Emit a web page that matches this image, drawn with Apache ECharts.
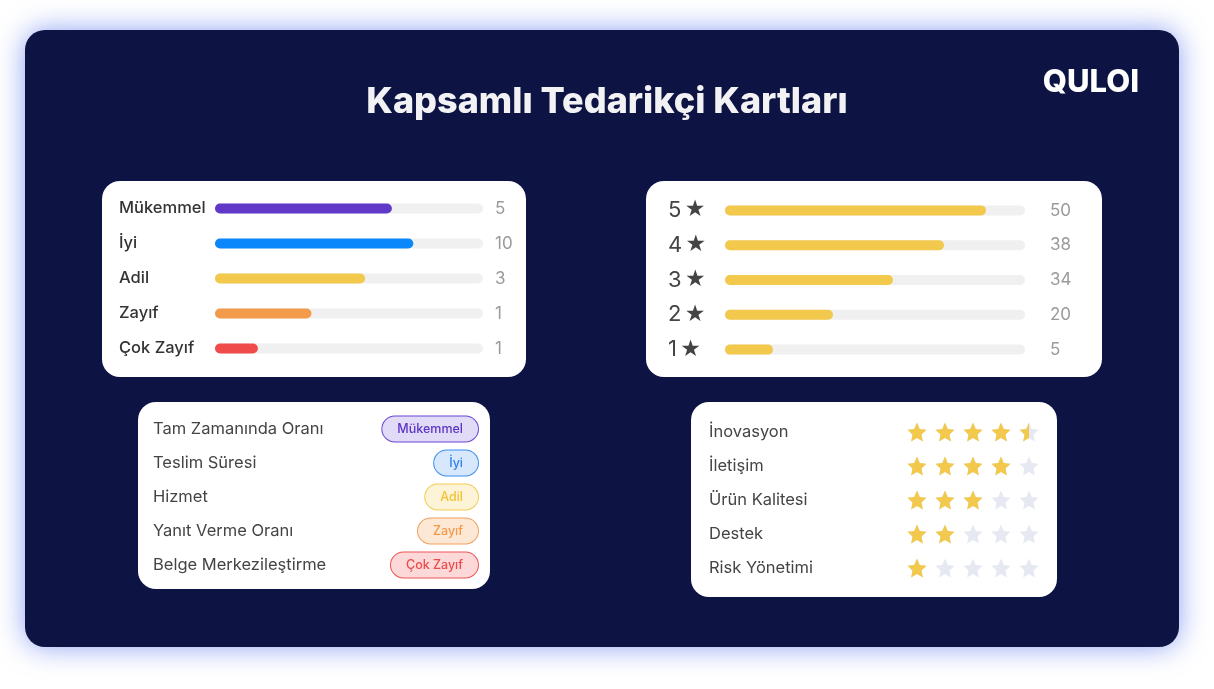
<!DOCTYPE html>
<html><head><meta charset="utf-8">
<script src="https://cdn.jsdelivr.net/npm/echarts@6/dist/echarts.min.js"></script>
<style>html,body{margin:0;padding:0;background:#fff}#c{width:1214px;height:689px}</style>
</head><body><div id="c"></div>
<script>
// ---- data ----
const gradeCats = ['Mükemmel', 'İyi', 'Adil', 'Zayıf', 'Çok Zayıf'];
const gradeCounts = ['5', '10', '3', '1', '1'];
const gradeFill = [66, 74, 56, 36, 16];
const gradeColors = ['#6139c9', '#0a87fa', '#f2c94c', '#f29c4b', '#ef4b4b'];

const starLevels = ['5', '4', '3', '2', '1'];
const starCounts = ['50', '38', '34', '20', '5'];
const starFill = [87, 73, 56, 36, 16];

const metricNames = ['Tam Zamanında Oranı', 'Teslim Süresi', 'Hizmet', 'Yanıt Verme Oranı', 'Belge Merkezileştirme'];
const metricGrades = ['Mükemmel', 'İyi', 'Adil', 'Zayıf', 'Çok Zayıf'];

const attrNames = ['İnovasyon', 'İletişim', 'Ürün Kalitesi', 'Destek', 'Risk Yönetimi'];
const attrRatings = [4.5, 4, 3, 2, 1];
const maxStars = 5;

const titleText = 'Kapsamlı Tedarikçi Kartları';
const logoText = 'QULOI';

// ---- styles ----
const FONT = 'Inter, "Noto Sans", sans-serif';
const badgeStyles = [
  {color: '#5b34c4', backgroundColor: '#e1dbf7', borderColor: '#6a45d6'},
  {color: '#2f80ed', backgroundColor: '#d8e8fc', borderColor: '#3a8ef0'},
  {color: '#f2c233', backgroundColor: '#fdf3d6', borderColor: '#f2cb52'},
  {color: '#f2994a', backgroundColor: '#fde8d6', borderColor: '#f2a05a'},
  {color: '#eb4a4a', backgroundColor: '#fdd8d8', borderColor: '#ee5555'}
];
const rich = {};
badgeStyles.forEach((s, i) => {
  rich['g' + i] = Object.assign({fontSize: 12.5, fontFamily: FONT, fontWeight: 500, borderWidth: 1, borderRadius: 13, padding: [6, 15, 6, 15]}, s);
});
const STAR = 'path://M12,1.5 L15.1,8.2 L22.5,9 L17,14 L18.5,21.3 L12,17.6 L5.5,21.3 L7,14 L1.5,9 L8.9,8.2 Z';

const hidden = {axisLine: {show: false}, axisTick: {show: false}, splitLine: {show: false}};

const chart = echarts.init(document.getElementById('c'), null, {renderer: 'canvas'});
chart.setOption({
  backgroundColor: '#ffffff',
  animation: false,
  title: [
    {text: titleText, left: 'center', top: 79, textStyle: {color: '#f2f2f4', fontSize: 36, fontWeight: 800, fontFamily: FONT}},
    {text: logoText, right: 70, top: 62, textStyle: {color: '#ffffff', fontSize: 31, fontWeight: 800, fontFamily: FONT}}
  ],
  graphic: [
    {type: 'rect', z: -10, shape: {x: 25, y: 30, width: 1154, height: 617, r: 20},
      style: {fill: '#0d1443', shadowBlur: 28, shadowColor: 'rgba(80,110,235,0.65)'}},
    {type: 'rect', z: -5, shape: {x: 102, y: 181, width: 424, height: 196, r: 18}, style: {fill: '#fff'}},
    {type: 'rect', z: -5, shape: {x: 646, y: 181, width: 456, height: 196, r: 18}, style: {fill: '#fff'}},
    {type: 'rect', z: -5, shape: {x: 138, y: 402, width: 352, height: 187, r: 18}, style: {fill: '#fff'}},
    {type: 'rect', z: -5, shape: {x: 691, y: 402, width: 366, height: 195, r: 18}, style: {fill: '#fff'}}
  ],
  grid: [
    {left: 215, top: 191, width: 268, height: 175},
    {left: 725, top: 193, width: 300, height: 174},
    {left: 153, top: 412, width: 325, height: 170},
    {left: 903, top: 415, width: 140, height: 170}
  ],
  xAxis: [
    Object.assign({gridIndex: 0, type: 'value', min: 0, max: 100, axisLabel: {show: false}}, hidden),
    Object.assign({gridIndex: 1, type: 'value', min: 0, max: 100, axisLabel: {show: false}}, hidden),
    Object.assign({gridIndex: 2, type: 'value', min: 0, max: 1, axisLabel: {show: false}}, hidden),
    Object.assign({gridIndex: 3, type: 'value', min: 0, max: maxStars, axisLabel: {show: false}}, hidden)
  ],
  yAxis: [
    Object.assign({gridIndex: 0, type: 'category', inverse: true, data: gradeCats,
      axisLabel: {align: 'left', margin: 96, color: '#333', fontSize: 16.5, fontWeight: 500, fontFamily: FONT, padding: [4, 0, 0, 0]}}, hidden),
    Object.assign({gridIndex: 0, type: 'category', inverse: true, position: 'right', data: gradeCounts,
      axisLabel: {margin: 12, color: '#9a9a9a', fontSize: 17, fontFamily: FONT}}, hidden),
    Object.assign({gridIndex: 1, type: 'category', inverse: true, data: starLevels,
      axisLabel: {align: 'left', margin: 57, formatter: v => '{n|' + v + '} {s|★}',
        rich: {n: {fontSize: 22, color: '#444', fontFamily: FONT}, s: {fontSize: 23, color: '#444', fontFamily: 'DejaVu Sans'}}}}, hidden),
    Object.assign({gridIndex: 1, type: 'category', inverse: true, position: 'right', data: starCounts,
      axisLabel: {margin: 25, color: '#9a9a9a', fontSize: 17, fontFamily: FONT}}, hidden),
    Object.assign({gridIndex: 2, type: 'category', inverse: true, data: metricNames,
      axisLabel: {align: 'left', margin: 0, color: '#444', fontSize: 16.5, fontFamily: FONT}}, hidden),
    Object.assign({gridIndex: 2, type: 'category', inverse: true, position: 'right', data: metricGrades,
      axisLabel: {align: 'right', margin: 0, formatter: (v, i) => '{g' + i + '|' + v + '}', rich: rich}}, hidden),
    Object.assign({gridIndex: 3, type: 'category', inverse: true, data: attrNames,
      axisLabel: {align: 'left', margin: 194, color: '#444', fontSize: 16.5, fontFamily: FONT, padding: [2, 0, 0, 0]}}, hidden)
  ],
  series: [
    {type: 'bar', xAxisIndex: 0, yAxisIndex: 0, barWidth: 10,
      showBackground: true, backgroundStyle: {color: '#f0f0f0', borderRadius: 5},
      itemStyle: {borderRadius: 5},
      data: gradeFill.map((v, i) => ({value: v, itemStyle: {color: gradeColors[i]}}))},
    {type: 'bar', xAxisIndex: 1, yAxisIndex: 2, barWidth: 10,
      showBackground: true, backgroundStyle: {color: '#f0f0f0', borderRadius: 5},
      itemStyle: {borderRadius: 5, color: '#f2c94c'}, data: starFill},
    {type: 'scatter', xAxisIndex: 2, yAxisIndex: 4, symbolSize: 0, silent: true, data: []},
    {type: 'pictorialBar', xAxisIndex: 3, yAxisIndex: 6, symbol: STAR, symbolSize: [19, 19],
      symbolRepeat: maxStars, symbolBoundingData: maxStars, symbolMargin: '5!', z: 2,
      itemStyle: {color: '#e6e9f2'}, data: attrNames.map(() => maxStars)},
    {type: 'pictorialBar', xAxisIndex: 3, yAxisIndex: 6, symbol: STAR, symbolSize: [19, 19],
      symbolRepeat: maxStars, symbolBoundingData: maxStars, symbolMargin: '5!', symbolClip: true, z: 3,
      itemStyle: {color: '#f2c94c'}, data: attrRatings}
  ]
});
</script></body></html>
